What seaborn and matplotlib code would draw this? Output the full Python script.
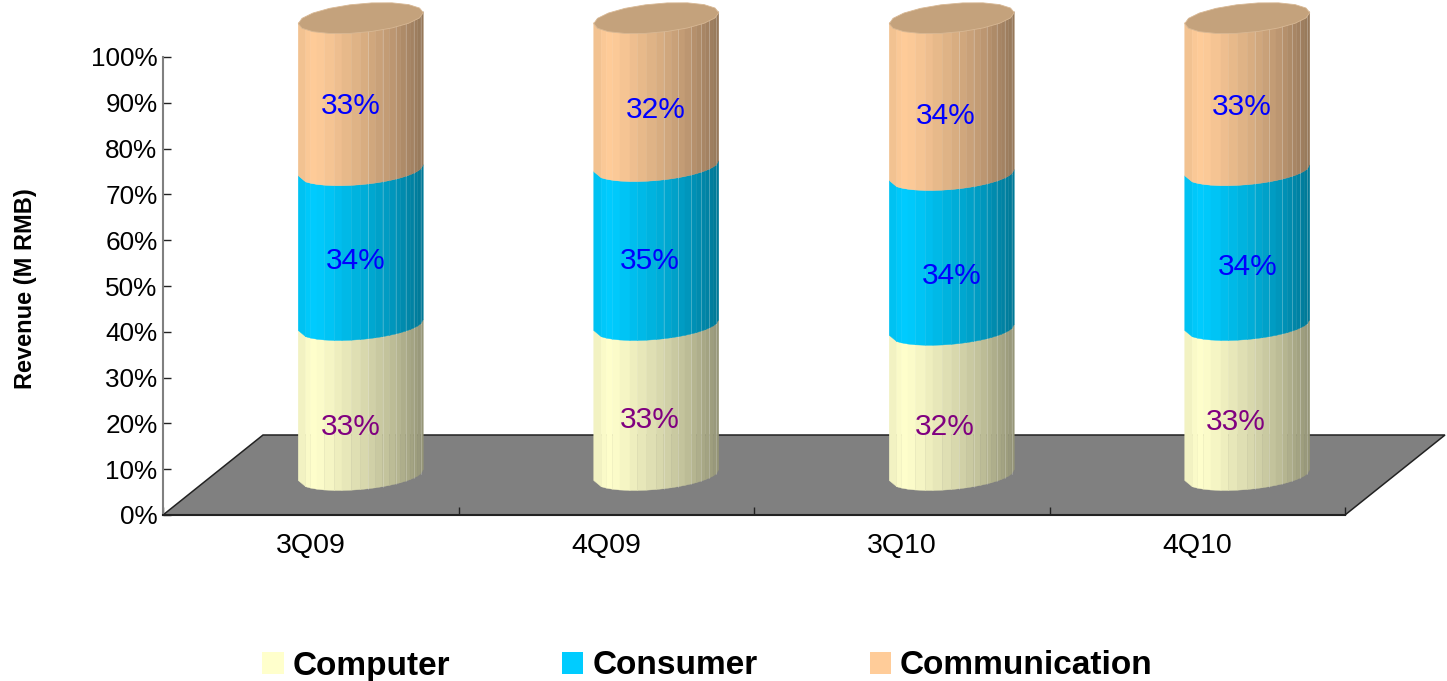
import numpy as np
import matplotlib
matplotlib.use("Agg")
import matplotlib.pyplot as plt
from matplotlib.patches import Polygon, Patch
import seaborn as sns

# ---- data -------------------------------------------------------------
quarters = ["3Q09", "4Q09", "3Q10", "4Q10"]
computer = [32.75, 32.75, 31.7, 32.75]
consumer = [33.8, 34.7, 33.8, 33.8]
communication = [33.45, 32.55, 34.5, 33.45]
computer_labels = ["33%", "33%", "32%", "33%"]
consumer_labels = ["34%", "35%", "34%", "34%"]
communication_labels = ["33%", "32%", "34%", "33%"]
series_names = ["Computer", "Consumer", "Communication"]
y_ticks = list(range(0, 101, 10))

# ---- style ------------------------------------------------------------
colors = ["#FFFFCC", "#00CCFF", "#FFCC99"]
label_colors = ["#800080", "#0000FF", "#0000FF"]
# label nudges in pixels (right, down) per series and quarter
nudge_x = [[-9.5, -6, -6.5, -11.5], [-5.5, -6, 0, 0], [-10, 0, -6, -5]]
nudge_y = [[27, 20, 24.6, 22], [13.4, 15.5, 23.6, 19.4], [12.5, 18.4, 20, 13.5]]

W, H = 1447, 681
sns.set_theme(style="white")
plt.rcParams["font.family"] = ["Liberation Sans", "DejaVu Sans"]

fig = plt.figure(figsize=(W / 100, H / 100), dpi=100)
L, R, B, T = 163, 1345, 515, 57
DX, DY = 50, 40          # half depth of the 3D floor
rect = [L / W, 1 - B / H, (R - L) / W, (B - T) / H]
ax = fig.add_axes(rect, facecolor="none")
ax2 = fig.add_axes([(L + DX) / W, 1 - (B - DY) / H, (R - L) / W, (B - T) / H], facecolor="none")

# main frame
ax.set_xlim(-0.5, 3.5)
ax.set_ylim(0, 100)
ax.set_xticks(range(len(quarters)))
ax.set_xticklabels(quarters, fontsize=20.5, color="#000000")
ax.set_xticks(np.arange(-0.5, 3.6, 1), minor=True)
ax.tick_params(axis="x", which="major", length=0, pad=13)
ax.tick_params(axis="x", which="minor", length=6, width=1, direction="in", color="#222222", bottom=True)
ax.set_yticks(y_ticks)
ax.set_yticklabels([f"{v}%" for v in y_ticks], fontsize=18.8, color="#000000")
ax.tick_params(axis="y", length=6, width=1, direction="in", color="#222222", left=True, pad=4)
ax.set_ylabel("Revenue (M RMB)", fontsize=17, fontweight="bold", color="#000000")
ax.yaxis.set_label_coords((37 - L) / (R - L), (B - 289) / (B - T))
for s in ("top", "right"):
    ax.spines[s].set_visible(False)
ax.spines["left"].set_color("#808080")
ax.spines["left"].set_linewidth(1.5)
ax.spines["bottom"].set_color("#222222")
ax.spines["bottom"].set_linewidth(1.5)

# floor
w_ax, h_ax = R - L, B - T
floor = Polygon([(0, 0), (2 * DX / w_ax, 2 * DY / h_ax), (1 + 2 * DX / w_ax, 2 * DY / h_ax), (1, 0)],
                closed=True, transform=ax.transAxes, facecolor="#808080", edgecolor="#222222",
                linewidth=1.1, clip_on=False, zorder=0.5)
ax.add_patch(floor)

# cylinders: seaborn places the stacked bars, each is then re-skinned as a shaded band
values = [computer, consumer, communication]
bottoms = np.zeros(len(quarters))
RY, TILT = 14.5 / 4.58, 5.5 / 4.58
strip_edges = np.array([-1, -.88, -.8, -.7, -.58, -.42, -.3, -.15, 0, .12, .24, .35, .46, .56,
                        .64, .72, .79, .85, .91, .96, 1])
shade_u = [-1, -.78, -.6, 0, .5, 1]
shade_v = [.93, 1, .98, .86, .74, .58]
seam_u = [.12, .35, .56, .72, .85, .96]


def arc(u):
    return -RY * np.sqrt(np.clip(1 - u ** 2, 0, 1)) + TILT * u


caps = [None] * len(quarters)
for k, (vals, col, name, lab, lab_col) in enumerate(
        zip(values, colors, series_names,
            [computer_labels, consumer_labels, communication_labels], label_colors)):
    n_before = len(ax2.patches)
    sns.barplot(x=quarters, y=vals, bottom=bottoms, color=col, width=125 / 295.5,
                saturation=1, ax=ax2, legend=False)
    for i, p in enumerate(list(ax2.patches[n_before:])):
        x0, w, y0, h = p.get_x(), p.get_width(), p.get_y(), p.get_height()
        p.set_visible(False)
        base = np.array(matplotlib.colors.to_rgb(col))
        for a, b in zip(strip_edges[:-1], strip_edges[1:]):
            m = (a + b) / 2
            f = np.interp(m, shade_u, shade_v)
            xa, xb = x0 + w * (a + 1) / 2, x0 + w * (b + 1) / 2
            c = base * f
            ax2.add_patch(Polygon([(xa, y0 + arc(a)), (xb, y0 + arc(b)),
                                   (xb, y0 + h + arc(b)), (xa, y0 + h + arc(a))],
                                  closed=True, facecolor=c, edgecolor=c, linewidth=0.3,
                                  clip_on=False, zorder=2))
        for u in seam_u:
            xs = x0 + w * (u + 1) / 2
            ax2.plot([xs, xs], [y0 + arc(u), y0 + h + arc(u)], color="white", alpha=0.22,
                     lw=0.7, clip_on=False, zorder=2.5)
        ax2.annotate(lab[i], (x0 + w / 2, y0 + h / 2),
                     xytext=(nudge_x[k][i] * 0.72, -nudge_y[k][i] * 0.72), textcoords="offset points",
                     ha="center", va="center", fontsize=21.5, color=lab_col, zorder=5,
                     annotation_clip=False)
        caps[i] = (x0, w, y0 + h)
    bottoms = bottoms + np.array(vals)

# cap of every cylinder
t = np.linspace(0, 2 * np.pi, 19)[:-1]
for x0, w, top in caps:
    u = np.cos(t)
    ax2.add_patch(Polygon(np.c_[x0 + w * (u + 1) / 2, top - 0.25 + RY * np.sin(t) + TILT * u],
                          closed=True, facecolor="#C4A27C", edgecolor="#D8B894", linewidth=0.6,
                          clip_on=False, zorder=3))

ax2.set_xlim(-0.5, 3.5)
ax2.set_ylim(0, 100)
ax2.axis("off")

# legend
handles = [Patch(facecolor=c, edgecolor="none", label=n) for c, n in zip(colors, series_names)]
fig.legend(handles=handles, loc="center", bbox_to_anchor=(707.5 / W, 1 - 666 / H), ncol=3,
           frameon=False, prop={"size": 24, "weight": "bold"}, labelcolor="#000000",
           handlelength=0.64, handleheight=0.64, handletextpad=0.27, columnspacing=3.36,
           borderpad=0, borderaxespad=0)

fig.savefig("out.png", dpi=100)
